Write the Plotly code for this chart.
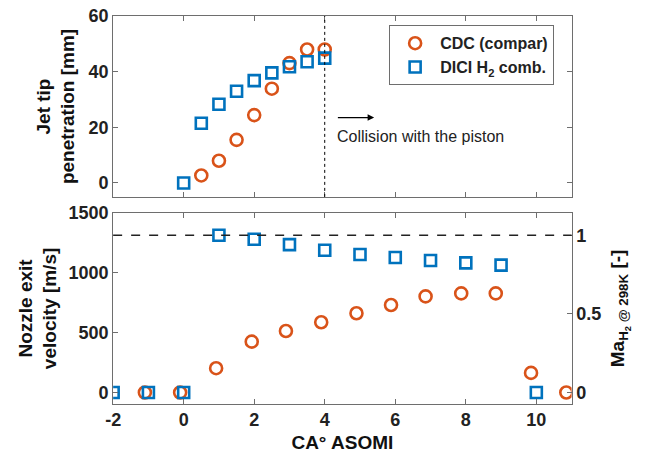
import plotly.graph_objects as go

# ---- data ----
# Top panel: jet tip penetration [mm]
cdc_pen_x = [0.5, 1.0, 1.5, 2.0, 2.5, 3.0, 3.5, 4.0]
cdc_pen_y = [2.7, 8.0, 15.5, 24.4, 33.9, 43.1, 48.0, 48.0]
dici_pen_x = [0.0, 0.5, 1.0, 1.5, 2.0, 2.5, 3.0, 3.5, 4.0]
dici_pen_y = [0.0, 21.5, 28.3, 33.0, 36.8, 39.6, 41.8, 43.6, 44.9]

# Bottom panel: nozzle exit velocity [m/s]
cdc_vel_x = [-1.1, -0.1, 0.92, 1.93, 2.9, 3.9, 4.9, 5.88, 6.86, 7.87, 8.85, 9.85, 10.85]
cdc_vel_y = [0, 0, 203, 425, 514, 587, 662, 731, 803, 828, 828, 164, 0]
dici_vel_x = [-2, -1, 0, 1, 2, 3, 4, 5, 6, 7, 8, 9, 10]
dici_vel_y = [0, 0, 0, 1314, 1280, 1236, 1189, 1153, 1128, 1103, 1083, 1064, 0]

sound_speed_h2 = 1314.0   # m/s, Mach 1 for H2 @ 298K
mach_one = 1.0
collision_ca = 4.0

x_ticks = [-2, 0, 2, 4, 6, 8, 10]
x_tick_text = ["-2", "0", "2", "4", "6", "8", "10"]
pen_ticks = [0, 20, 40, 60]
vel_ticks = [0, 500, 1000, 1500]
mach_ticks = [0, 0.5, 1]
mach_tick_text = ["0", "0.5", "1"]

orange = "#D95319"
blue = "#0072BD"
axis_col = "#6e6e6e"
FONT = "Liberation Sans"

fig = go.Figure()

circ = dict(symbol="circle-open", size=12, color=orange, line=dict(width=2.6, color=orange))
sq = dict(symbol="square-open", size=11, color=blue, line=dict(width=2.6, color=blue))

fig.add_trace(go.Scatter(x=cdc_pen_x, y=cdc_pen_y, mode="markers", marker=circ,
                         name="CDC (compar)", xaxis="x", yaxis="y"))
fig.add_trace(go.Scatter(x=dici_pen_x, y=dici_pen_y, mode="markers", marker=sq,
                         name="DICI H<sub>2</sub> comb.", xaxis="x", yaxis="y"))
fig.add_trace(go.Scatter(x=cdc_vel_x, y=cdc_vel_y, mode="markers", marker=circ,
                         showlegend=False, xaxis="x2", yaxis="y2"))
fig.add_trace(go.Scatter(x=dici_vel_x, y=dici_vel_y, mode="markers", marker=sq,
                         showlegend=False, xaxis="x2", yaxis="y2"))

tickfont = dict(family=FONT, size=18, color="#222222", weight="bold")
titlefont = dict(family=FONT, size=19, color="#111111", weight="bold")

common_x = dict(range=[-2, 11], tickvals=x_ticks, ticktext=x_tick_text,
                ticks="inside", ticklen=5,
                tickcolor=axis_col, showline=True, linecolor=axis_col, linewidth=1,
                mirror="ticks", showgrid=False, zeroline=False, automargin=False,
                domain=[0.173, 0.874])

fig.update_layout(
    width=654, height=460,
    margin=dict(l=0, r=0, t=0, b=0),
    paper_bgcolor="white", plot_bgcolor="white",
    font=dict(family=FONT),
    xaxis=dict(**common_x, anchor="y", showticklabels=False),
    yaxis=dict(domain=[0.572, 0.965], range=[-5, 60], tickvals=pen_ticks,
               ticks="inside", ticklen=5, tickcolor=axis_col, showline=True,
               linecolor=axis_col, mirror="ticks", showgrid=False, zeroline=False,
               tickfont=tickfont, automargin=False,
               title=dict(text="Jet tip<br>penetration [mm]", font=titlefont, standoff=8)),
    xaxis2=dict(**common_x, anchor="y2", tickfont=tickfont,
                title=dict(text="CA° ASOMI", font=titlefont, standoff=6)),
    yaxis2=dict(domain=[0.122, 0.537], range=[-95, 1500], tickvals=vel_ticks,
                ticks="inside", ticklen=5, tickcolor=axis_col, showline=True,
                linecolor=axis_col, mirror=False, showgrid=False, zeroline=False,
                tickfont=tickfont, anchor="x2", automargin=False,
                title=dict(text="Nozzle exit<br>velocity [m/s]", font=titlefont, standoff=6)),
    yaxis3=dict(overlaying="y2", side="right", anchor="x2",
                range=[-95 / sound_speed_h2, 1500 / sound_speed_h2],
                tickvals=mach_ticks, ticktext=mach_tick_text,
                ticks="inside", ticklen=5, tickcolor=axis_col, showline=True,
                linecolor=axis_col, showgrid=False, zeroline=False, tickfont=tickfont,
                automargin=False,
                title=dict(text="Ma<sub>H<sub>2</sub> @ 298K</sub> [-]", font=titlefont, standoff=10)),
    legend=dict(x=0.595, y=0.945, xanchor="left", yanchor="top",
                bgcolor="white", bordercolor=axis_col, borderwidth=1,
                font=dict(family=FONT, size=16, color="#222222", weight="bold"),
                tracegroupgap=0, itemwidth=40),
)

# vertical dotted line at collision
fig.add_shape(type="line", xref="x", yref="y domain", x0=collision_ca, x1=collision_ca,
              y0=0, y1=1, line=dict(color="black", width=1, dash="dot"))
# Mach 1 dashed line
fig.add_shape(type="line", xref="x2 domain", yref="y3", x0=0, x1=1,
              y0=mach_one, y1=mach_one, line=dict(color="#222222", width=1.5, dash="dash"))

# arrow + text
fig.add_annotation(x=5.4, y=23.5, ax=4.33, ay=23.5, xref="x", yref="y", axref="x", ayref="y",
                   text="", showarrow=True, arrowhead=2, arrowsize=1, arrowwidth=1.3,
                   arrowcolor="black")
fig.add_annotation(x=4.3, y=16.6, xref="x", yref="y", text="Collision with the piston",
                   showarrow=False, xanchor="left", yanchor="middle",
                   font=dict(family=FONT, size=16, color="#222222"))

fig.write_html("out.html")
